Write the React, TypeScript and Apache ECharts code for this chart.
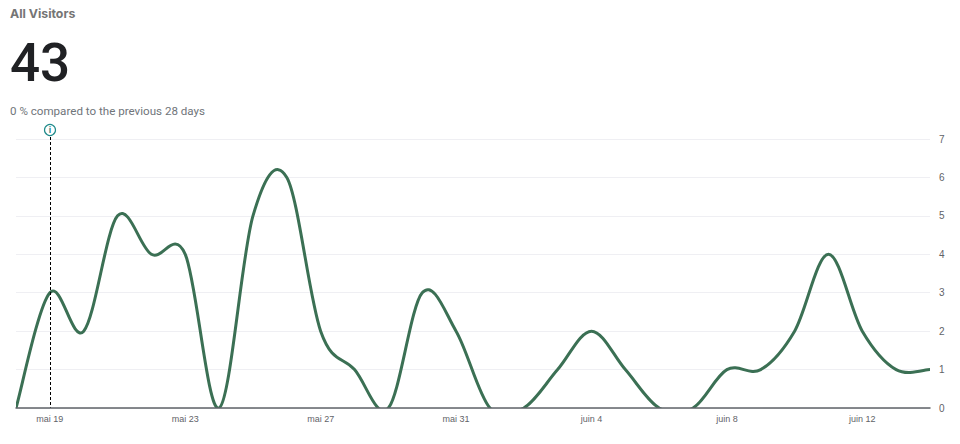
import React, { useEffect, useRef } from "react";
import * as echarts from "echarts";

const dates = ["mai 18","mai 19","mai 20","mai 21","mai 22","mai 23","mai 24","mai 25","mai 26","mai 27","mai 28","mai 29","mai 30","mai 31","juin 1","juin 2","juin 3","juin 4","juin 5","juin 6","juin 7","juin 8","juin 9","juin 10","juin 11","juin 12","juin 13","juin 14"];
const visitors = [0,3,2,5,4,4,0,5,6,2,1,0,3,2,0,0,1,2,1,0,0,1,1,2,4,2,1,1];
const markerDate = "mai 19";
const titleText = "All Visitors";
const totalText = "43";
const compareText = "0 % compared to the previous 28 days";

// Tangents scaled like a cardinal spline, so that the curve overshoots its points as in the picture.
function splinePath(pts: number[][], tension: number) {
  let d = `M${pts[0][0]} ${pts[0][1]}`;
  for (let i = 0; i < pts.length - 1; i++) {
    const p0 = pts[Math.max(i - 1, 0)], p1 = pts[i], p2 = pts[i + 1], p3 = pts[Math.min(i + 2, pts.length - 1)];
    d += `C${p1[0] + (p2[0] - p0[0]) * tension} ${p1[1] + (p2[1] - p0[1]) * tension} ${p2[0] - (p3[0] - p1[0]) * tension} ${p2[1] - (p3[1] - p1[1]) * tension} ${p2[0]} ${p2[1]}`;
  }
  return d;
}

export default function App() {
  const ref = useRef<HTMLDivElement>(null);
  useEffect(() => {
    document.body.style.margin = "0";
    const chart = echarts.init(ref.current!, null, { renderer: "svg" });
    chart.setOption({
      animation: false,
      backgroundColor: "#ffffff",
      grid: { left: 16, right: 30, top: 139, bottom: 36 },
      xAxis: {
        type: "category",
        data: dates,
        boundaryGap: false,
        z: 5,
        axisTick: { show: false },
        axisLine: { lineStyle: { color: "#5f6368", width: 1.5 } },
        axisLabel: {
          color: "#5f6368",
          fontFamily: "Liberation Sans",
          fontSize: 9,
          margin: 6,
          interval: (i: number) => i % 4 === 1,
        },
        splitLine: { show: false },
      },
      yAxis: {
        type: "value",
        position: "right",
        min: 0,
        max: 7,
        interval: 1,
        axisLine: { show: false },
        axisTick: { show: false },
        axisLabel: { color: "#5f6368", fontFamily: "Liberation Sans", fontSize: 10, margin: 9 },
        splitLine: { lineStyle: { color: "#efeff3", width: 1 } },
      },
      series: [
        {
          type: "custom",
          name: "All Visitors",
          coordinateSystem: "cartesian2d",
          data: visitors.map((v, i) => [i, v]),
          encode: { x: 0, y: 1 },
          clip: true,
          silent: true,
          z: 3,
          renderItem: (params: any, api: any) => {
            if (params.dataIndex !== 0) return null;
            const pts = visitors.map((v, i) => api.coord([i, v]));
            return {
              type: "path",
              shape: { pathData: splinePath(pts, 0.17) },
              style: { fill: "none", stroke: "#3b7054", lineWidth: 3, lineJoin: "round" },
            };
          },
        },
        {
          type: "line",
          data: [],
          markLine: {
            silent: true,
            symbol: "none",
            label: { show: false },
            lineStyle: { color: "#000000", type: [3, 2], width: 1 },
            data: [[{ xAxis: markerDate, y: 137 }, { xAxis: markerDate, yAxis: 0 }]],
          },
        },
      ],
      graphic: [
        { type: "text", left: 10, top: 7, style: { text: titleText, fill: "#757575", font: "bold 12.3px Inter" } },
        { type: "text", left: 10, top: 36, style: { text: totalText, fill: "#202124", font: "500 53px Roboto" } },
        { type: "text", left: 10, top: 105, style: { text: compareText, fill: "#70757a", font: "11.6px Roboto" } },
        { type: "circle", shape: { cx: 50, cy: 130, r: 5.5 }, style: { fill: "#ffffff", stroke: "#1f8a8a", lineWidth: 1.2 } },
        { type: "text", x: 50, y: 130, style: { text: "i", fill: "#1f8a8a", font: "bold 9px Roboto", align: "center", verticalAlign: "middle" } },
      ],
    });
    return () => chart.dispose();
  }, []);
  return <div ref={ref} style={{ width: 960, height: 444 }} />;
}
